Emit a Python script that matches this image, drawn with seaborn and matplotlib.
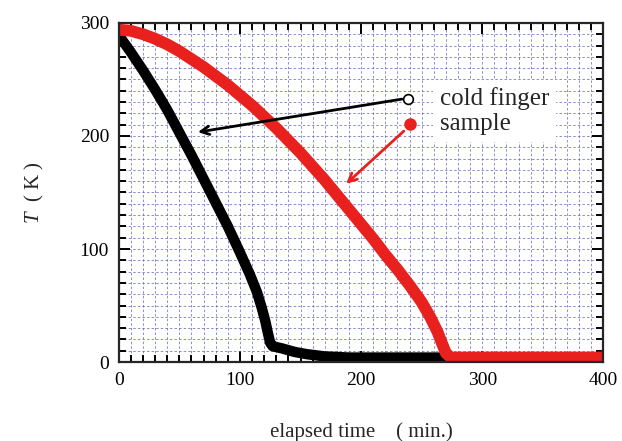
import numpy as np
import pandas as pd
import matplotlib
matplotlib.use('Agg')
import matplotlib.pyplot as plt
import seaborn as sns
from matplotlib.ticker import MultipleLocator

# cold finger (black) and sample (red)
cold_time = [0, 10, 20, 30, 40, 50, 60, 70, 80, 90, 100, 108, 114, 118, 121,
             123, 125, 127, 135, 145, 155, 170, 190, 260, 330, 400]
cold_temp = [289, 274, 258, 241, 223, 203, 183, 162, 141, 120, 97, 78, 62, 48, 36,
             26, 17, 14, 12, 9, 7, 5, 4, 4, 4, 4]

sample_time = [0, 10, 20, 30, 40, 50, 60, 70, 80, 90, 100, 110, 120, 130, 140,
               150, 160, 170, 180, 190, 200, 210, 220, 230, 240, 250, 257, 263,
               267, 270, 274, 300, 350, 400]
sample_temp = [294, 293, 290, 286, 281, 275, 268, 261, 253, 245, 236, 227, 217, 207, 196,
               185, 173, 161, 148, 135, 122, 109, 95, 82, 68, 53, 40, 27,
               16, 8, 4, 4, 4, 4]

labels = ['cold finger', 'sample']

cold = pd.DataFrame({'time': cold_time, 'T': cold_temp})
sample = pd.DataFrame({'time': sample_time, 'T': sample_temp})

sns.set_style("ticks")
plt.rcParams['font.family'] = ['Liberation Serif', 'Noto Sans CJK JP']
plt.rcParams['mathtext.fontset'] = 'custom'
plt.rcParams['mathtext.it'] = 'Liberation Serif:italic'
plt.rcParams['mathtext.rm'] = 'Liberation Serif'

fig = plt.figure(figsize=(6.22, 4.41), dpi=100)
ax = fig.add_axes([0.191, 0.179, 0.779, 0.769])

sns.lineplot(data=cold, x='time', y='T', ax=ax, color='black', lw=7.5,
             solid_capstyle='round', solid_joinstyle='round', sort=False)
sns.lineplot(data=sample, x='time', y='T', ax=ax, color='#e8201e', lw=8.5,
             solid_capstyle='round', solid_joinstyle='round', sort=False)

ax.set_xlim(0, 400)
ax.set_ylim(0, 300)
ax.xaxis.set_major_locator(MultipleLocator(100))
ax.xaxis.set_minor_locator(MultipleLocator(10))
ax.yaxis.set_major_locator(MultipleLocator(100))
ax.yaxis.set_minor_locator(MultipleLocator(10))
ax.tick_params(which='both', direction='in', top=True, right=True,
               labelsize=14, width=1.4, colors='black')
ax.tick_params(which='major', length=8, pad=7)
ax.tick_params(which='minor', length=5)
ax.grid(which='both', linestyle=(0, (3, 2.5)), color='#5a5ab8', lw=0.6, alpha=0.8)
ax.set_axisbelow(True)
for s in ax.spines.values():
    s.set_linewidth(1.6)

ax.set_xlabel('elapsed time\u3000( min.)', fontsize=15)
ax.set_ylabel('$T$  ( K )', fontsize=15)
ax.xaxis.set_label_coords(0.5, -0.178)
ax.yaxis.set_label_coords(-0.15, 0.5)

# legend box with arrows
ax.text(265, 222, labels[0] + '\n' + labels[1], fontsize=18, va='center',
        ha='left', linespacing=1.15, zorder=5,
        bbox=dict(facecolor='white', edgecolor='none', pad=5))
ax.annotate('', xy=(63, 203), xytext=(236, 233), zorder=6,
            arrowprops=dict(arrowstyle='->,head_length=0.6,head_width=0.3',
                            color='black', lw=2))
ax.annotate('', xy=(186, 156), xytext=(237, 206), zorder=6,
            arrowprops=dict(arrowstyle='->,head_length=0.6,head_width=0.3',
                            color='#e8201e', lw=2))
ax.plot([239], [233], 'o', ms=7, mfc='white', mec='black', mew=1.2, zorder=7)
ax.plot([240], [211], 'o', ms=8, color='#e8201e', zorder=7)

fig.savefig('out.png', dpi=100)
